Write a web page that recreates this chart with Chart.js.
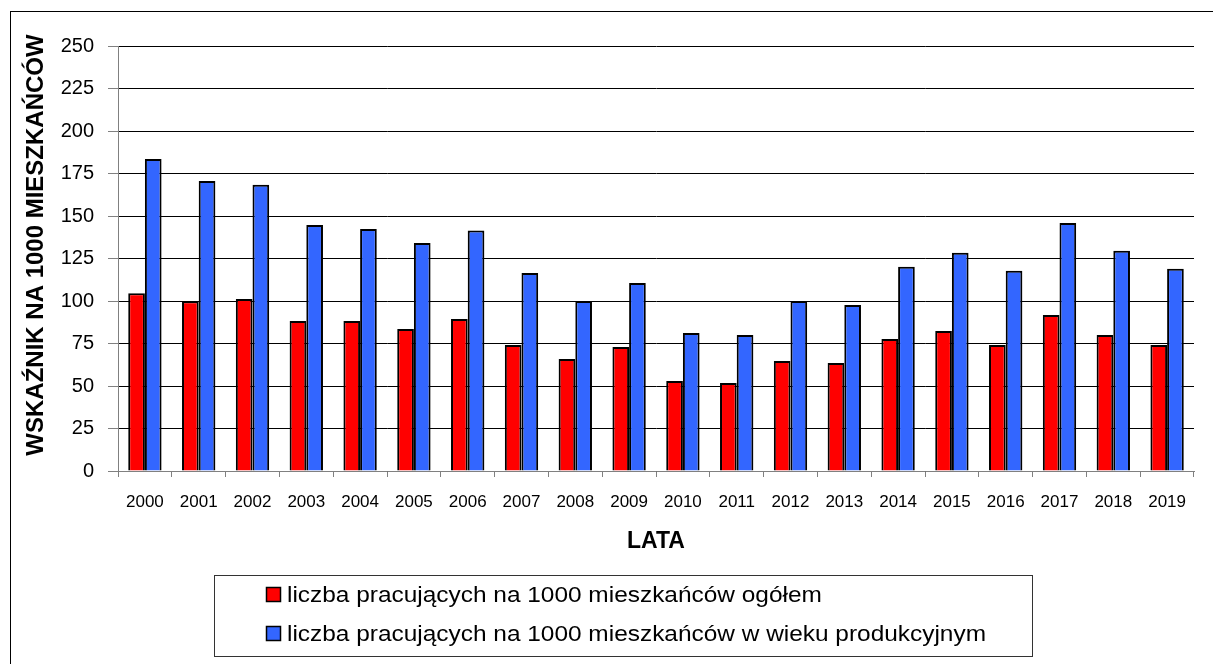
<!DOCTYPE html>
<html>
<head>
<meta charset="utf-8">
<script src="https://cdn.jsdelivr.net/npm/chart.js@4/dist/chart.umd.min.js"></script>
<style>
  html, body { margin: 0; padding: 0; background: #fff; }
  #wykres { display: block; }
</style>
</head>
<body>
<canvas id="wykres" width="1213" height="664"></canvas>
<script>
var lata = ['2000','2001','2002','2003','2004','2005','2006','2007','2008','2009',
            '2010','2011','2012','2013','2014','2015','2016','2017','2018','2019'];
var ogolem = [104.5, 99.8, 101.2, 88.2, 88.2, 83.5, 89.4, 74.1, 65.9, 72.9,
              52.9, 51.8, 64.7, 63.5, 77.6, 82.4, 74.1, 91.8, 80.0, 74.1];
var produkcyjny = [183.5, 170.6, 168.4, 144.7, 142.4, 134.1, 141.4, 116.5, 100.0, 110.6,
                   81.2, 80.0, 100.0, 97.6, 120.2, 128.4, 117.8, 145.9, 129.6, 119.0];
var etykiety = ['liczba pracujących na 1000 mieszkańców ogółem',
                'liczba pracujących na 1000 mieszkańców w wieku produkcyjnym'];
var tytulY = 'WSKAŹNIK NA 1000 MIESZKAŃCÓW';
var tytulX = 'LATA';

var fontFamily = '"Liberation Sans", Arial, Helvetica, sans-serif';
Chart.defaults.font.family = fontFamily;
Chart.defaults.color = '#000';

// white page + thin frame around everything
var ramka = {
  id: 'ramka',
  beforeDraw: function(chart) {
    var c = chart.ctx;
    c.save();
    c.fillStyle = '#fff';
    c.fillRect(0, 0, chart.width, chart.height);
    c.strokeStyle = '#000';
    c.lineWidth = 1;
    c.strokeRect(10.5, 11.5, chart.width + 10, chart.height + 10);
    c.restore();
  }
};

// vertical axis title, drawn by hand so it can sit a bit higher
var tytulOsiY = {
  id: 'tytulOsiY',
  afterDraw: function(chart) {
    var c = chart.ctx;
    c.save();
    c.translate(36, 245);
    c.rotate(-Math.PI / 2);
    c.font = 'bold 24px ' + fontFamily;
    c.fillStyle = '#000';
    c.textAlign = 'center';
    c.textBaseline = 'middle';
    c.fillText(tytulY, 0, 0);
    c.restore();
  }
};

// boxed legend under the axis
var legendaRamka = {
  id: 'legendaRamka',
  afterDraw: function(chart) {
    var c = chart.ctx;
    var x0 = 214, y0 = 575, w = 818, h = 81;
    c.save();
    c.strokeStyle = '#333';
    c.lineWidth = 1;
    c.strokeRect(x0 + 0.5, y0 + 0.5, w, h);
    chart.data.datasets.forEach(function(ds, i) {
      var cy = 594.5 + i * 39;
      c.fillStyle = ds.backgroundColor;
      c.fillRect(266, cy - 7.5, 15, 15);
      c.strokeStyle = '#000';
      c.lineWidth = 1.5;
      c.strokeRect(266.5, cy - 7, 14, 14);
      c.save();
      c.translate(287, cy);
      c.scale(1.11, 1);
      c.font = '22px ' + fontFamily;
      c.fillStyle = '#000';
      c.textAlign = 'left';
      c.textBaseline = 'middle';
      c.fillText(ds.label, 0, 1);
      c.restore();
    });
    c.restore();
  }
};

new Chart(document.getElementById('wykres'), {
  type: 'bar',
  data: {
    labels: lata,
    datasets: [
      {
        label: etykiety[0],
        data: ogolem,
        backgroundColor: '#FF0000',
        borderColor: '#000',
        borderWidth: 2,
        categoryPercentage: 0.62,
        barPercentage: 1.0
      },
      {
        label: etykiety[1],
        data: produkcyjny,
        backgroundColor: '#3366FF',
        borderColor: '#000',
        borderWidth: 2,
        categoryPercentage: 0.62,
        barPercentage: 1.0
      }
    ]
  },
  options: {
    responsive: false,
    animation: false,
    layout: { padding: { left: 0, top: 46, right: 19, bottom: 104 } },
    plugins: {
      legend: { display: false },
      tooltip: { enabled: false }
    },
    scales: {
      x: {
        grid: {
          drawOnChartArea: false,
          drawTicks: true,
          tickLength: 6,
          tickColor: '#808080',
          offset: true
        },
        border: { display: true, color: '#808080', width: 1 },
        ticks: {
          font: { size: 17 },
          color: '#000',
          padding: 15,
          maxRotation: 0,
          autoSkip: false
        },
        title: {
          display: true,
          text: tytulX,
          font: { size: 23, weight: 'bold' },
          color: '#000',
          padding: { top: 0, bottom: 5 }
        },
        afterFit: function(scale) { scale.height = 89; }
      },
      y: {
        min: 0,
        max: 250,
        grid: {
          color: '#000',
          lineWidth: 1,
          tickLength: 10,
          tickColor: '#808080'
        },
        border: { display: true, color: '#808080', width: 1 },
        ticks: {
          stepSize: 25,
          font: { size: 20 },
          color: '#000',
          padding: 14
        },
        afterFit: function(scale) { scale.width = 118; }
      }
    }
  },
  plugins: [ramka, tytulOsiY, legendaRamka]
});
</script>
</body>
</html>
